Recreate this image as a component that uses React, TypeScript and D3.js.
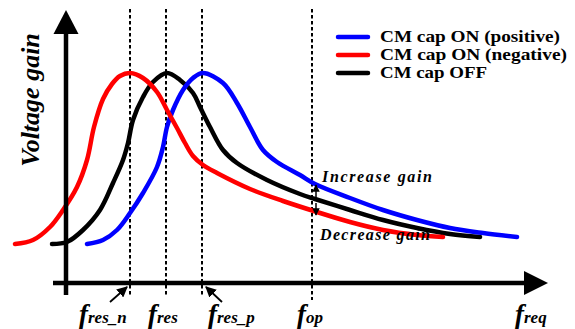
import React from "react";
import * as d3 from "d3";

// Conceptual gain curves: [frequency, gain] in arbitrary units
const positiveCurve: [number, number][] = [
  [21, 39], [37, 43], [51, 53], [64, 70], [77, 90], [91, 116], [97, 136], [101, 156],
  [107, 173], [117, 193], [127, 205], [137, 210], [157, 200], [171, 180], [184, 156],
  [197, 133], [211, 121], [234, 108], [249, 99], [284, 85], [317, 73], [351, 63],
  [384, 55], [417, 50], [451, 46],
];
const negativeCurve: [number, number][] = [
  [-51, 39], [-33, 43], [-16, 56], [-3, 73], [11, 96], [21, 123], [28, 156], [37, 184],
  [46, 199], [54, 207], [64, 210], [77, 205], [91, 191], [101, 173], [111, 155],
  [119, 140], [127, 127], [137, 118], [151, 110], [184, 94], [217, 82], [251, 71],
  [284, 61], [317, 53], [351, 48], [377, 46],
];
const offCurve: [number, number][] = [
  [-14, 39], [1, 41], [17, 53], [34, 73], [47, 100], [57, 123], [62, 140], [67, 163],
  [77, 186], [87, 201], [101, 210], [114, 203], [127, 190], [134, 176], [144, 156],
  [157, 133], [171, 120], [201, 103], [234, 89], [249, 84], [284, 73], [317, 63],
  [351, 55], [384, 49], [414, 46],
];

const seriesNames = ["CM cap ON (positive)", "CM cap ON (negative)", "CM cap OFF"];
const seriesColors = ["#0000ff", "#ff0000", "#000000"];
const legendWidths = [180, 187, 107];

// Marked frequencies on the x axis
const markerFreqs = [64, 100, 136, 246];
const markerSubs = ["res_n", "res", "res_p", "op"];
const markerLabelOffsets = [-51, -18, 6, -15];

const W = 575;
const H = 329;
const FONT = "Liberation Serif, Times New Roman, Times, serif";

export default function App() {
  const x = d3.scaleLinear().domain([0, 482]).range([66, 548]);
  const y = d3.scaleLinear().domain([0, 273]).range([283, 10]);

  const line = d3
    .line<[number, number]>()
    .x((d) => x(d[0]))
    .y((d) => y(d[1]))
    .curve(d3.curveCatmullRom.alpha(0.5));

  const curves = [positiveCurve, negativeCurve, offCurve];
  const drawOrder = [2, 0, 1];

  const x0 = x(0);
  const xEnd = x(482);
  const y0 = y(0);
  const yTop = y(273);
  const fop = x(markerFreqs[3]);

  return (
    <svg
      width={W}
      height={H}
      viewBox={`0 0 ${W} ${H}`}
      style={{ position: "absolute", left: 0, top: 0, background: "#fff" }}
    >
      <defs>
        <marker id="smallHead" viewBox="0 0 10 10" refX="9" refY="5" markerWidth="6" markerHeight="6" orient="auto">
          <path d="M0,0 L10,5 L0,10 Z" fill="#000" />
        </marker>
        <marker id="tinyHead" viewBox="0 0 10 10" refX="9" refY="5" markerWidth="5" markerHeight="5" orient="auto">
          <path d="M0,0 L10,5 L0,10 Z" fill="#000" />
        </marker>
      </defs>

      {/* dashed frequency markers */}
      {markerFreqs.map((f, i) => (
        <line
          key={`dash-${i}`}
          x1={x(f)}
          x2={x(f)}
          y1={9}
          y2={i === 3 ? 300 : 297}
          stroke="#000"
          strokeWidth={2}
          strokeDasharray="3.5,2.5"
        />
      ))}

      {/* gain curves */}
      {drawOrder.map((i) => (
        <path
          key={`curve-${i}`}
          d={line(curves[i]) || ""}
          fill="none"
          stroke={seriesColors[i]}
          strokeWidth={4.5}
          strokeLinecap="round"
          strokeLinejoin="round"
        />
      ))}

      {/* axes */}
      <line x1={x0} x2={x0} y1={295} y2={yTop + 20} stroke="#000" strokeWidth={4.5} />
      <path d={`M${x0},${yTop} L${x0 - 12.5},${yTop + 24} L${x0 + 12.5},${yTop + 24} Z`} fill="#000" />
      <line x1={53} x2={xEnd - 20} y1={y0} y2={y0} stroke="#000" strokeWidth={4.5} />
      <path d={`M${xEnd},${y0} L${xEnd - 24},${y0 - 12} L${xEnd - 24},${y0 + 12} Z`} fill="#000" />

      {/* y axis title */}
      <text
        transform={`translate(39, 100) rotate(-90)`}
        textAnchor="middle"
        fontFamily={FONT}
        fontStyle="italic"
        fontWeight="bold"
        fontSize={26}
      >
        Voltage gain
      </text>

      {/* frequency labels */}
      {markerFreqs.map((f, i) => (
        <text
          key={`lab-${i}`}
          x={x(f) + markerLabelOffsets[i]}
          y={323}
          fontFamily={FONT}
          fontStyle="italic"
          fontWeight="bold"
        >
          <tspan fontSize={27}>f</tspan>
          <tspan fontSize={17}>{markerSubs[i]}</tspan>
        </text>
      ))}
      <text x={xEnd - 33} y={323} fontFamily={FONT} fontStyle="italic" fontWeight="bold">
        <tspan fontSize={27}>f</tspan>
        <tspan fontSize={17}>req</tspan>
      </text>

      {/* pointer arrows to the shifted resonances */}
      <line x1={110} y1={302} x2={x(markerFreqs[0]) - 3} y2={287} stroke="#000" strokeWidth={1.8} markerEnd="url(#smallHead)" />
      <line x1={222} y1={302} x2={x(markerFreqs[2]) + 4} y2={287} stroke="#000" strokeWidth={1.8} markerEnd="url(#smallHead)" />

      {/* gain change arrows at f_op */}
      <line x1={fop + 4} y1={197} x2={fop + 4} y2={185} stroke="#000" strokeWidth={1.5} markerEnd="url(#tinyHead)" />
      <line x1={fop + 4} y1={203} x2={fop + 4} y2={215} stroke="#000" strokeWidth={1.5} markerEnd="url(#tinyHead)" />

      <text
        x={322}
        y={182}
        fontFamily={FONT}
        fontStyle="italic"
        fontWeight="bold"
        fontSize={16}
        textLength={110}
        lengthAdjust="spacing"
      >
        Increase gain
      </text>
      <text
        x={320}
        y={240}
        fontFamily={FONT}
        fontStyle="italic"
        fontWeight="bold"
        fontSize={16}
        textLength={110}
        lengthAdjust="spacing"
      >
        Decrease gain
      </text>

      {/* legend */}
      {seriesNames.map((name, i) => (
        <g key={`leg-${i}`}>
          <line
            x1={338}
            x2={368}
            y1={37 + i * 18}
            y2={37 + i * 18}
            stroke={seriesColors[i]}
            strokeWidth={4.5}
            strokeLinecap="round"
          />
          <text
            x={380}
            y={42 + i * 18}
            fontFamily={FONT}
            fontWeight="bold"
            fontSize={16}
            textLength={legendWidths[i]}
            lengthAdjust="spacingAndGlyphs"
          >
            {name}
          </text>
        </g>
      ))}
    </svg>
  );
}
